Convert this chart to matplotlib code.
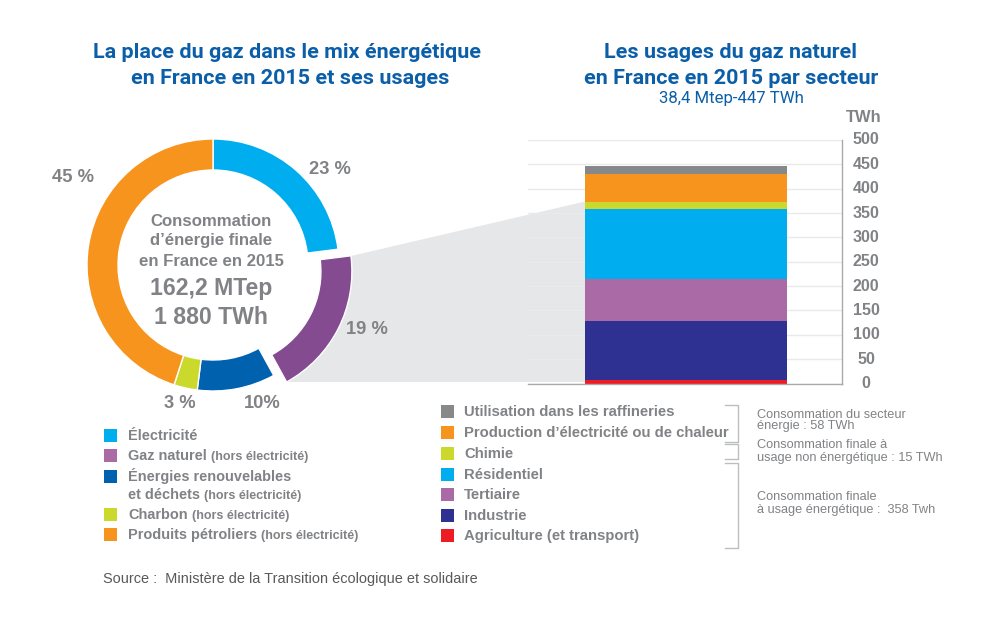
import matplotlib
matplotlib.use("Agg")
import matplotlib.pyplot as plt
from matplotlib.patches import Rectangle, Polygon
from matplotlib.transforms import ScaledTranslation

W, H = 996, 627
GREY = "#808285"
BLUE = "#0b5ea8"
LINE = "#bcbec0"

# Donut
mix_labels = ["Électricité", "Gaz naturel", "Énergies renouvelables", "Charbon", "Produits pétroliers"]
mix_values = [23, 19, 10, 3, 45]
mix_colors = ["#00aeef", "#844b90", "#0061ae", "#cbd92c", "#f7941d"]
mix_key_colors = ["#00aeef", "#a96aa5", "#0061ae", "#cbd92c", "#f7941d"]
mix_explode = [0, 0.115, 0, 0, 0]
mix_pct = ["23 %", "19 %", "10%", "3 %", "45 %"]

# Stacked bar, bottom to top
use_labels = ["Agriculture (et transport)", "Industrie", "Tertiaire", "Résidentiel", "Chimie",
              "Production d’électricité ou de chaleur", "Utilisation dans les raffineries"]
use_values = [7, 122, 85, 144, 15, 58, 16]
use_colors = ["#ed1c24", "#2e3192", "#a96aa5", "#00aeef", "#cbd92c", "#f7941d", "#87888a"]
y_ticks = [0, 50, 100, 150, 200, 250, 300, 350, 400, 450, 500]

plt.rcParams["font.family"] = ["Liberation Sans", "DejaVu Sans"]


def px_axes(x0, y0, x1, y1, **kw):
    # axes from pixel box, y from the top of the image
    return fig.add_axes([x0 / W, 1 - y1 / H, (x1 - x0) / W, (y1 - y0) / H], **kw)


def px(size):
    return size * 0.72


fig = plt.figure(figsize=(W / 100, H / 100), dpi=100, facecolor="white")

# pixel canvas for everything that is not a data mark
bg = px_axes(0, 0, W, H, zorder=0)
bg.set_xlim(0, W)
bg.set_ylim(H, 0)
bg.axis("off")

# grey zoom band between donut slice and bar
bg.add_patch(Polygon([(351, 256), (585, 201.5), (585, 382), (287, 382)], fc="#e6e7e8", ec="none"))

# donut
cx, cy, r = 213, 265, 126
donut = px_axes(cx - 150, cy - 150, cx + 150, cy + 150, zorder=1)
donut.patch.set_alpha(0)
donut.pie(mix_values, colors=mix_colors, explode=mix_explode, startangle=90, counterclock=False,
          radius=1, wedgeprops={"width": 31 / r, "edgecolor": "white", "linewidth": 1})
donut.set_xlim(-150 / r, 150 / r)
donut.set_ylim(-150 / r, 150 / r)

# stacked bar
bar = px_axes(528, 140, 841.7, 383.5, zorder=1)
bar.patch.set_alpha(0)
bottom = 0
for value, color in zip(use_values, use_colors):
    bar.bar(0, value, width=1, bottom=bottom, color=color, zorder=3)
    bottom += value
bar.set_xlim(-0.782, 0.771)
bar.set_ylim(0, 500)
bar.set_xticks([])
bar.set_yticks(y_ticks)
bar.yaxis.tick_right()
bar.tick_params(axis="y", length=0, pad=px(24.5), labelsize=px(16), labelcolor=GREY)
# labels sit a little above their gridlines in the original
lift = ScaledTranslation(0, 1.5 / 100, fig.dpi_scale_trans)
for t in bar.get_yticklabels():
    t.set_horizontalalignment("center")
    t.set_fontweight("bold")
    t.set_transform(t.get_transform() + lift)
bar.grid(axis="y", color="#e9eaeb", lw=1, zorder=1)
bar.set_axisbelow(True)
for side in ["top", "left"]:
    bar.spines[side].set_visible(False)
for side in ["right", "bottom"]:
    bar.spines[side].set_color("#a7a9ac")
    bar.spines[side].set_linewidth(1)
bar.spines["bottom"].set_zorder(4)

# titles
title_kw = dict(family="Roboto", weight="bold", color=BLUE, ha="center", va="center", fontsize=px(21.5))
bg.text(287, 53, "La place du gaz dans le mix énergétique", **title_kw)
bg.text(290, 78, "en France en 2015 et ses usages", **title_kw)
bg.text(731, 53, "Les usages du gaz naturel", **title_kw)
bg.text(731, 78.5, "en France en 2015 par secteur", **title_kw)
bg.text(731, 98, "38,4 Mtep-447 TWh", family="Roboto", color=BLUE, ha="center", va="center", fontsize=px(16.8))
bg.text(864, 118, "TWh", color=GREY, weight="bold", ha="center", va="center", fontsize=px(16.5))

# donut percentages
pct_pos = [(330, 169), (367, 329), (262, 404), (180, 403), (72.5, 177)]
for label, (x, y) in zip(mix_pct, pct_pos):
    bg.text(x, y, label, color=GREY, weight="bold", ha="center", va="center", fontsize=px(18.4))

# donut centre
top = px_axes(0, 0, W, H, zorder=2)
top.set_xlim(0, W)
top.set_ylim(H, 0)
top.axis("off")
for y, s in [(221, "Consommation"), (241, "d’énergie finale"), (261, "en France en 2015")]:
    top.text(211, y, s, color=GREY, weight="bold", ha="center", va="center", fontsize=px(16.7))
top.text(211, 289, "162,2 MTep", color=GREY, weight="bold", ha="center", va="center", fontsize=px(23))
top.text(211, 318, "1 880 TWh", color=GREY, weight="bold", ha="center", va="center", fontsize=px(23))

# left legend
renderer = fig.canvas.get_renderer()
left_rows = [("Électricité", "", 435, mix_key_colors[0]),
             ("Gaz naturel", "(hors électricité)", 455, mix_key_colors[1]),
             ("Énergies renouvelables", "", 476, mix_key_colors[2]),
             ("et déchets", "(hors électricité)", 494, None),
             ("Charbon", "(hors électricité)", 514, mix_key_colors[3]),
             ("Produits pétroliers", "(hors électricité)", 534, mix_key_colors[4])]
for main, note, y, color in left_rows:
    if color:
        bg.add_patch(Rectangle((104, y - 6.5), 13, 13, fc=color, ec="none"))
    t = bg.text(128, y + 5, main, color=GREY, weight="bold", va="baseline", fontsize=px(14.5))
    if note:
        x1 = t.get_window_extent(renderer).x1
        bg.text(x1 + 4, y + 5, note, color=GREY, weight="bold", va="baseline", fontsize=px(12.5))

# right legend, top to bottom
right_y = [411, 432, 453, 474, 494, 515, 535]
for label, color, y in zip(use_labels[::-1], use_colors[::-1], right_y):
    bg.add_patch(Rectangle((441, y - 6.5), 13, 13, fc=color, ec="none"))
    bg.text(464, y + 5, label, color=GREY, weight="bold", va="baseline", fontsize=px(14.9))

# brackets
for y0, y1 in [(405, 441.5), (444, 459), (463, 548)]:
    bg.plot([725, 738, 738, 725], [y0, y0, y1, y1], color=LINE, lw=1)

# bracket notes
notes = [(414.5, "Consommation du secteur"), (426, "énergie : 58 TWh"),
         (445.5, "Consommation finale à"), (457.5, "usage non énergétique : 15 TWh"),
         (497.5, "Consommation finale"), (509.5, "à usage énergétique :  358 Twh")]
for y, s in notes:
    bg.text(757, y, s, color=GREY, va="center", fontsize=px(12.7))

bg.text(103, 579, "Source :  Ministère de la Transition écologique et solidaire", color="#58595b",
        va="center", fontsize=px(14.55))

fig.savefig("out.png", dpi=100)
